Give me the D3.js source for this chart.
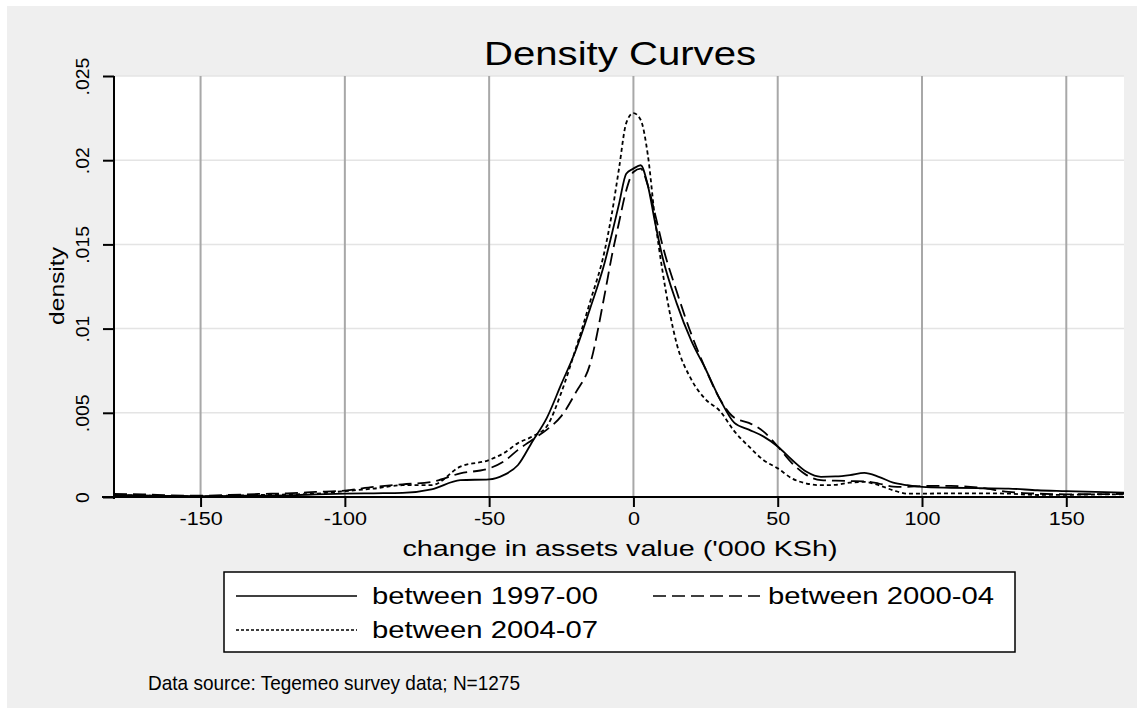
<!DOCTYPE html>
<html>
<head>
<meta charset="utf-8">
<script src="https://cdn.jsdelivr.net/npm/d3@7"></script>
<style>
  body { margin: 0; background: #fff; }
  text { font-family: "Liberation Sans", Arial, sans-serif; fill: #000; }
</style>
</head>
<body>
<svg id="chart" width="1144" height="715"></svg>
<script>
// --- data ---
const gridX = [-180, -170, -160, -150, -140, -130, -120, -110, -100, -90, -80, -70, -60, -50, -45, -40, -35, -30,
  -25, -20, -15, -10, -7.5, -5, -2.5, 0, 2.5, 5, 7.5, 10, 15, 20, 25, 30, 35, 40, 45, 50, 55, 60, 65, 70, 75, 80,
  85, 90, 95, 100, 110, 120, 130, 140, 150, 160, 170];

const dens1997 = [0.00012, 0.0001, 0.00006, 0.00005, 0.00006, 0.00008, 0.0001, 0.00015, 0.0002, 0.00022, 0.00024,
  0.00045, 0.001, 0.00105, 0.0013, 0.0019, 0.0033, 0.0047, 0.0067, 0.0087, 0.0112, 0.0139, 0.0156, 0.0174, 0.0192,
  0.0195, 0.0197, 0.0185, 0.0163, 0.0143, 0.0115, 0.0093, 0.0076, 0.0058, 0.0044, 0.004, 0.0036, 0.003, 0.0022,
  0.0015, 0.0012, 0.00122, 0.0013, 0.00143, 0.0012, 0.00085, 0.0007, 0.0006, 0.00055, 0.00052, 0.0005, 0.0004,
  0.00035, 0.0003, 0.00026];

const dens2000 = [0.00018, 0.00016, 0.0001, 0.00008, 0.00012, 0.00018, 0.00022, 0.0003, 0.00038, 0.0006, 0.00075,
  0.0009, 0.0014, 0.0017, 0.0021, 0.0028, 0.0034, 0.004, 0.0048, 0.0062, 0.0079, 0.012, 0.0143, 0.0163, 0.0182,
  0.0193, 0.0195, 0.0185, 0.0168, 0.015, 0.0122, 0.0097, 0.0076, 0.0058, 0.0047, 0.0044, 0.0039, 0.003, 0.002,
  0.0013, 0.001, 0.00097, 0.00095, 0.00093, 0.0008, 0.00062, 0.0006, 0.00065, 0.00066, 0.00055, 0.0003, 0.0002,
  0.00016, 0.00017, 0.00018];

const dens2004 = [0.0001, 0.00008, 0.00005, 0.00004, 0.00008, 0.00012, 0.00015, 0.0002, 0.00035, 0.0005, 0.0007,
  0.0007, 0.0018, 0.0022, 0.0026, 0.0032, 0.0036, 0.0042, 0.0062, 0.0088, 0.0116, 0.0146, 0.0168, 0.0195, 0.0222,
  0.0228, 0.0224, 0.0203, 0.0165, 0.0135, 0.0091, 0.007, 0.0058, 0.0051, 0.0039, 0.003, 0.0022, 0.0017, 0.0011,
  0.0008, 0.0007, 0.00072, 0.00085, 0.0009, 0.0007, 0.0004, 0.0002, 0.0002, 0.00022, 0.00022, 0.0002, 0.00012,
  0.00013, 0.00015, 0.00016];

const seriesNames = ["between 1997-00", "between 2000-04", "between 2004-07"];
const xTicks = [-150, -100, -50, 0, 50, 100, 150];
const yTicks = [0, 0.005, 0.01, 0.015, 0.02, 0.025];
const yTickLabels = ["0", ".005", ".01", ".015", ".02", ".025"];

const series = [
  { name: seriesNames[0], values: dens1997, dash: null },
  { name: seriesNames[1], values: dens2000, dash: "13,6" },
  { name: seriesNames[2], values: dens2004, dash: "4,3" }
];

// --- layout ---
const svg = d3.select("#chart");
const plot = { left: 114, top: 76, right: 1124, bottom: 497 };

const x = d3.scaleLinear().domain([-180, 170]).range([plot.left, plot.right]);
const y = d3.scaleLinear().domain([0, 0.025]).range([plot.bottom, plot.top]);

// outer background
svg.append("rect").attr("x", 7).attr("y", 6).attr("width", 1130).attr("height", 702).attr("fill", "#efefef");
svg.append("rect")
  .attr("x", plot.left).attr("y", plot.top)
  .attr("width", plot.right - plot.left).attr("height", plot.bottom - plot.top)
  .attr("fill", "#fff");

// horizontal grid (light)
svg.append("g").selectAll("line")
  .data(yTicks.slice(1))
  .join("line")
  .attr("x1", plot.left).attr("x2", plot.right)
  .attr("y1", d => y(d)).attr("y2", d => y(d))
  .attr("stroke", "#e4e4e4").attr("stroke-width", 1.5);

// vertical grid (darker)
svg.append("g").selectAll("line")
  .data(xTicks)
  .join("line")
  .attr("x1", d => x(d)).attr("x2", d => x(d))
  .attr("y1", plot.top).attr("y2", plot.bottom)
  .attr("stroke", "#a8a8a8").attr("stroke-width", 2);

// clip for curves
svg.append("clipPath").attr("id", "clip")
  .append("rect")
  .attr("x", plot.left).attr("y", plot.top - 2)
  .attr("width", plot.right - plot.left).attr("height", plot.bottom - plot.top + 2);

const line = d3.line()
  .x((d, i) => x(gridX[i]))
  .y(d => y(d))
  .curve(d3.curveMonotoneX);

svg.append("g").attr("clip-path", "url(#clip)")
  .selectAll("path")
  .data(series)
  .join("path")
  .attr("d", d => line(d.values))
  .attr("fill", "none")
  .attr("stroke", "#000")
  .attr("stroke-width", 1.8)
  .attr("stroke-dasharray", d => d.dash);

// x axis
const xAxis = svg.append("g")
  .attr("transform", `translate(0,${plot.bottom})`)
  .call(d3.axisBottom(x).tickValues(xTicks).tickSize(10).tickPadding(5).tickFormat(d => String(d)));
xAxis.select(".domain").attr("d", `M${plot.left - 12},0H${plot.right}`).attr("stroke-width", 2);
xAxis.selectAll(".tick line").attr("stroke-width", 2);
xAxis.selectAll(".tick text")
  .attr("font-size", 18)
  .attr("font-family", "Liberation Sans, Arial, sans-serif")
  .attr("transform", "scale(1.2,1)");

// y axis
const yAxis = svg.append("g")
  .attr("transform", `translate(${plot.left},0)`)
  .call(d3.axisLeft(y).tickValues(yTicks).tickSize(11).tickFormat((d, i) => yTickLabels[i]));
yAxis.select(".domain").attr("d", `M0,${plot.bottom + 2}V${plot.top}`).attr("stroke-width", 2);
yAxis.selectAll(".tick line").attr("stroke-width", 2);
yAxis.selectAll(".tick text")
  .attr("font-size", 18)
  .attr("font-family", "Liberation Sans, Arial, sans-serif")
  .attr("x", 0).attr("dy", null)
  .attr("text-anchor", "middle")
  .attr("transform", "translate(-25,0) rotate(-90) scale(1.08,1)");

// titles
svg.append("text")
  .attr("x", 620).attr("y", 65)
  .attr("text-anchor", "middle")
  .attr("font-size", 33)
  .attr("textLength", 272).attr("lengthAdjust", "spacingAndGlyphs")
  .text("Density Curves");

svg.append("text")
  .attr("x", 620).attr("y", 556)
  .attr("text-anchor", "middle")
  .attr("font-size", 22)
  .attr("textLength", 435).attr("lengthAdjust", "spacingAndGlyphs")
  .text("change in assets value ('000 KSh)");

svg.append("text")
  .attr("transform", "translate(64,286) rotate(-90)")
  .attr("text-anchor", "middle")
  .attr("font-size", 21)
  .attr("textLength", 78).attr("lengthAdjust", "spacingAndGlyphs")
  .text("density");

// legend
const legend = svg.append("g");
legend.append("rect")
  .attr("x", 224).attr("y", 572).attr("width", 791).attr("height", 80)
  .attr("fill", "#fff").attr("stroke", "#000").attr("stroke-width", 1.5);

const legendPos = [
  { x1: 236, x2: 357, tx: 372, cy: 596 },
  { x1: 653, x2: 760, tx: 768, cy: 596 },
  { x1: 236, x2: 357, tx: 372, cy: 630 }
];

const items = legend.selectAll("g.item")
  .data(series)
  .join("g").attr("class", "item");
items.append("line")
  .attr("x1", (d, i) => legendPos[i].x1).attr("x2", (d, i) => legendPos[i].x2)
  .attr("y1", (d, i) => legendPos[i].cy).attr("y2", (d, i) => legendPos[i].cy)
  .attr("stroke", "#000").attr("stroke-width", 1.5)
  .attr("stroke-dasharray", (d, i) => i === 2 ? "3,2" : d.dash);
items.append("text")
  .attr("x", (d, i) => legendPos[i].tx).attr("y", (d, i) => legendPos[i].cy + 8)
  .attr("font-size", 24)
  .attr("textLength", 226).attr("lengthAdjust", "spacingAndGlyphs")
  .text(d => d.name);

svg.append("text")
  .attr("x", 148).attr("y", 690)
  .attr("font-size", 21)
  .attr("textLength", 372).attr("lengthAdjust", "spacingAndGlyphs")
  .text("Data source: Tegemeo survey data; N=1275");
</script>
</body>
</html>
